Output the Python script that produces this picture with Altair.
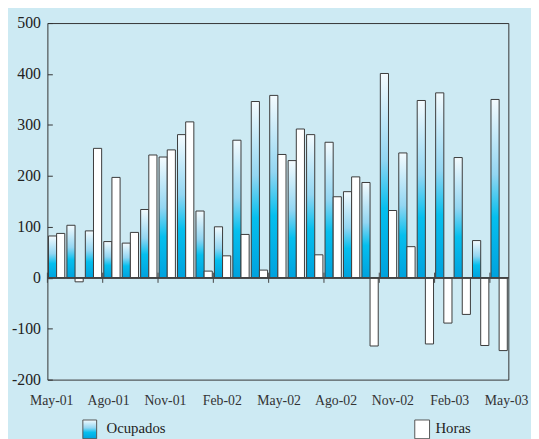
import altair as alt
import pandas as pd

months = ["May-01", "Jun-01", "Jul-01", "Ago-01", "Sep-01", "Oct-01", "Nov-01", "Dic-01",
          "Ene-02", "Feb-02", "Mar-02", "Abr-02", "May-02", "Jun-02", "Jul-02", "Ago-02",
          "Sep-02", "Oct-02", "Nov-02", "Dic-02", "Ene-03", "Feb-03", "Mar-03", "Abr-03", "May-03"]
ocupados = [82, 103, 92, 71, 68, 134, 237, 281, 131, 100, 270, 346, 358, 230, 281, 266,
            169, 187, 401, 245, 348, 363, 236, 73, 350]
horas = [87, -8, 254, 197, 89, 241, 251, 306, 13, 43, 85, 15, 242, 292, 45, 159,
         198, -134, 132, 61, -130, -89, -72, -133, -143]
series = ["Ocupados", "Horas"]
tick_months = months[::3]
y_ticks = list(range(-200, 501, 100))

rows = []
for m, o, h in zip(months, ocupados, horas):
    rows.append({"mes": m, "serie": "Ocupados", "valor": o})
    rows.append({"mes": m, "serie": "Horas", "valor": h})
df = pd.DataFrame(rows)
df_ticks = pd.DataFrame({"mes": tick_months})

BG = "#cdeaf3"
FONT = "Liberation Serif, Times New Roman, DejaVu Serif, serif"
grad = alt.Gradient(
    gradient="linear",
    stops=[
        alt.GradientStop(color="#f4fbfe", offset=0),
        alt.GradientStop(color="#93d6f2", offset=0.42),
        alt.GradientStop(color="#05bfee", offset=0.66),
        alt.GradientStop(color="#00a2de", offset=1),
    ],
    x1=0, x2=0, y1=0, y2=1,
)

x_scale = alt.Scale(domain=months, paddingInner=0, paddingOuter=0)
y_scale = alt.Scale(domain=[-200, 500], nice=False, zero=False)

x_axis = alt.Axis(values=tick_months, labelAngle=0, ticks=False,
                  domain=False, grid=False, labelPadding=14,
                  labelOffset={"expr": "-5 + 12.6 * datum.index"},
                  labelFont=FONT, labelFontSize=14, labelColor="#333333", title=None)
y_axis = alt.Axis(values=y_ticks, offset=-5, tickSize=5, domain=False, grid=False,
                  labelPadding=7, tickColor="#333333", labelFont=FONT,
                  labelExpr="'' + datum.value",
                  labelFontSize=16, labelColor="#222222", title=None)

bars = alt.Chart(df).mark_bar(stroke="#3a3a3a", strokeWidth=1).encode(
    x=alt.X("mes:N", scale=x_scale, sort=months, axis=x_axis),
    xOffset=alt.XOffset("serie:N", sort=series,
                        scale=alt.Scale(domain=series, paddingInner=0, paddingOuter=0.13)),
    y=alt.Y("valor:Q", scale=y_scale, axis=y_axis),
    fill=alt.condition(alt.datum.serie == "Ocupados", alt.value(grad), alt.value("white")),
)

zero = alt.Chart(df_ticks).mark_rule(color="#444444", strokeWidth=1).encode(
    y=alt.datum(0, scale=y_scale, axis=y_axis)
)

ticks = alt.Chart(df_ticks).mark_rule(color="#444444", strokeWidth=1).encode(
    x=alt.X("mes:N", scale=x_scale, sort=months, bandPosition=0, axis=x_axis),
    y=alt.datum(-10, scale=y_scale, axis=y_axis),
    y2=alt.datum(10),
)

one = pd.DataFrame({"k": [0]})
leg_sw1 = alt.Chart(one).mark_rect(fill=grad, stroke="#555555", strokeWidth=1).encode(
    x=alt.value(36), x2=alt.value(50), y=alt.value(403), y2=alt.value(422))
leg_tx1 = alt.Chart(one).mark_text(text="Ocupados", align="left", baseline="alphabetic",
                                   font=FONT, fontSize=15, color="#222222").encode(
    x=alt.value(60), y=alt.value(416))
leg_sw2 = alt.Chart(one).mark_rect(fill="white", stroke="#555555", strokeWidth=1).encode(
    x=alt.value(373), x2=alt.value(388), y=alt.value(403), y2=alt.value(422))
leg_tx2 = alt.Chart(one).mark_text(text="Horas", align="left", baseline="alphabetic",
                                   font=FONT, fontSize=15, color="#222222").encode(
    x=alt.value(394), y=alt.value(416))

chart = alt.layer(bars, zero, ticks, leg_sw1, leg_tx1, leg_sw2, leg_tx2).properties(
    width=468, height=362,
    autosize=alt.AutoSizeParams(type="none"),
    padding={"left": 40, "top": 12, "right": 23, "bottom": 57},
    background=BG,
).configure_view(stroke="#333333", strokeWidth=1, fill=BG)

chart.save("out.html", embed_options={"renderer": "svg", "actions": False})
